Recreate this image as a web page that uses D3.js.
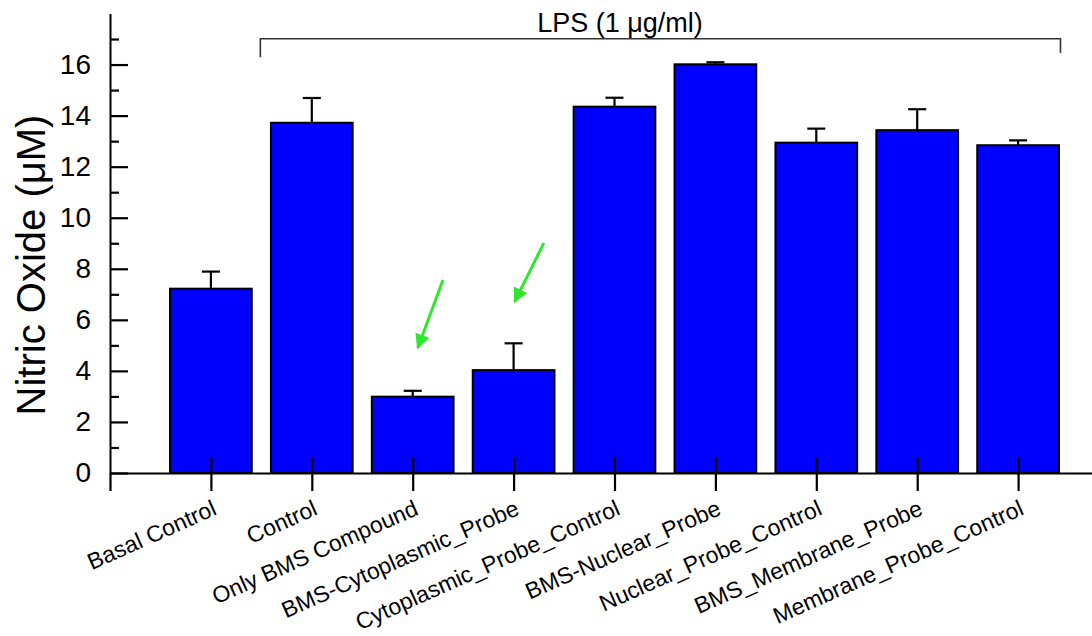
<!DOCTYPE html>
<html>
<head>
<meta charset="utf-8">
<script src="https://d3js.org/d3.v7.min.js"></script>
<style>
  body { margin: 0; background: #fff; }
  text { font-family: "Liberation Sans", Arial, sans-serif; fill: #000; }
</style>
</head>
<body>
<svg id="chart" width="1092" height="636"></svg>
<script>
// data
const categories = ["Basal Control", "Control", "Only BMS Compound", "BMS-Cytoplasmic_Probe",
  "Cytoplasmic_Probe_Control", "BMS-Nuclear_Probe", "Nuclear_Probe_Control",
  "BMS_Membrane_Probe", "Membrane_Probe_Control"];
const nitricOxide = [7.22, 13.72, 2.99, 4.03, 14.35, 16.01, 12.94, 13.43, 12.84];
const errorUp = [0.67, 0.97, 0.23, 1.05, 0.35, 0.08, 0.55, 0.82, 0.19];
const yMajorTicks = [0, 2, 4, 6, 8, 10, 12, 14, 16];
const yMinorTicks = [1, 3, 5, 7, 9, 11, 13, 15, 17];
// arrows, in data units: [x1, y1, x2, y2]
const arrows = [[3.30, 7.56, 3.05, 4.90], [4.30, 9.01, 4.01, 6.71]];

const svg = d3.select("#chart");

const x = d3.scaleLinear().domain([0, 10]).range([110, 1119]);
const y = d3.scaleLinear().domain([0, 18]).range([473, 13.5]);
const barW = x(0.81) - x(0);

// bars
svg.append("g").selectAll("rect")
  .data(nitricOxide)
  .join("rect")
  .attr("x", (d, i) => x(i + 1) - barW / 2)
  .attr("y", d => y(d))
  .attr("width", barW)
  .attr("height", d => y(0) - y(d))
  .attr("fill", "#0000ff")
  .attr("stroke", "#000")
  .attr("stroke-width", 2);

// error bars (upper only)
const eb = svg.append("g").attr("stroke", "#000").attr("stroke-width", 2.2);
nitricOxide.forEach((d, i) => {
  const cx = x(i + 1);
  eb.append("line").attr("x1", cx).attr("x2", cx).attr("y1", y(d)).attr("y2", y(d + errorUp[i]));
  eb.append("line").attr("x1", cx - 9).attr("x2", cx + 9).attr("y1", y(d + errorUp[i])).attr("y2", y(d + errorUp[i]));
});

// x axis
const xAxis = svg.append("g")
  .attr("transform", `translate(0,${y(0)})`)
  .call(d3.axisBottom(x).tickValues(d3.range(0, 10)).tickSize(18).tickSizeOuter(0).tickFormat(""));
xAxis.select(".domain").attr("stroke-width", 2);
xAxis.selectAll(".tick line").attr("stroke-width", 2.2).attr("y1", (d) => d === 0 ? 0 : -16);

svg.append("g").selectAll("text")
  .data(categories)
  .join("text")
  .attr("transform", (d, i) => `translate(${x(i + 1) + 7},514) rotate(-24)`)
  .attr("text-anchor", "end")
  .style("font-size", "23px")
  .text(d => d);

// y axis
const yAxis = svg.append("g")
  .attr("transform", `translate(${x(0)},0)`)
  .call(d3.axisLeft(y).tickValues(yMajorTicks).tickSize(-18).tickPadding(19).tickSizeOuter(0));
yAxis.select(".domain").attr("stroke-width", 2);
yAxis.selectAll(".tick line").attr("stroke-width", 2.2);
yAxis.selectAll(".tick text").style("font-size", "28px").style("font-family", "Liberation Sans, Arial, sans-serif");

const yMinor = svg.append("g")
  .attr("transform", `translate(${x(0)},0)`)
  .call(d3.axisLeft(y).tickValues(yMinorTicks).tickSize(-9).tickFormat("").tickSizeOuter(0));
yMinor.select(".domain").remove();
yMinor.selectAll(".tick line").attr("stroke-width", 2.2);

svg.append("text")
  .attr("transform", "translate(45,265) rotate(-90)")
  .attr("text-anchor", "middle")
  .style("font-size", "40px")
  .text("Nitric Oxide (\u03bcM)");

// LPS bracket
svg.append("path")
  .attr("d", `M${x(1.49)},${y(16.29)}V${y(17.01)}H${x(9.42)}V${y(16.45)}`)
  .attr("fill", "none")
  .attr("stroke", "#333")
  .attr("stroke-width", 1.6);

svg.append("text")
  .attr("x", 620).attr("y", 32)
  .attr("text-anchor", "middle")
  .style("font-size", "27px")
  .text("LPS (1 \u03bcg/ml)");

// green arrows
svg.append("defs").append("marker")
  .attr("id", "head")
  .attr("viewBox", "0 0 10 10")
  .attr("refX", 9).attr("refY", 5)
  .attr("markerWidth", 5).attr("markerHeight", 5)
  .attr("markerUnits", "strokeWidth")
  .attr("orient", "auto")
  .append("path")
  .attr("d", "M0,0L10,5L0,10Z")
  .attr("fill", "#2ee82e");

svg.append("g").selectAll("line")
  .data(arrows)
  .join("line")
  .attr("x1", d => x(d[0])).attr("y1", d => y(d[1]))
  .attr("x2", d => x(d[2])).attr("y2", d => y(d[3]))
  .attr("stroke", "#2ee82e")
  .attr("stroke-width", 3)
  .attr("marker-end", "url(#head)");
</script>
</body>
</html>
